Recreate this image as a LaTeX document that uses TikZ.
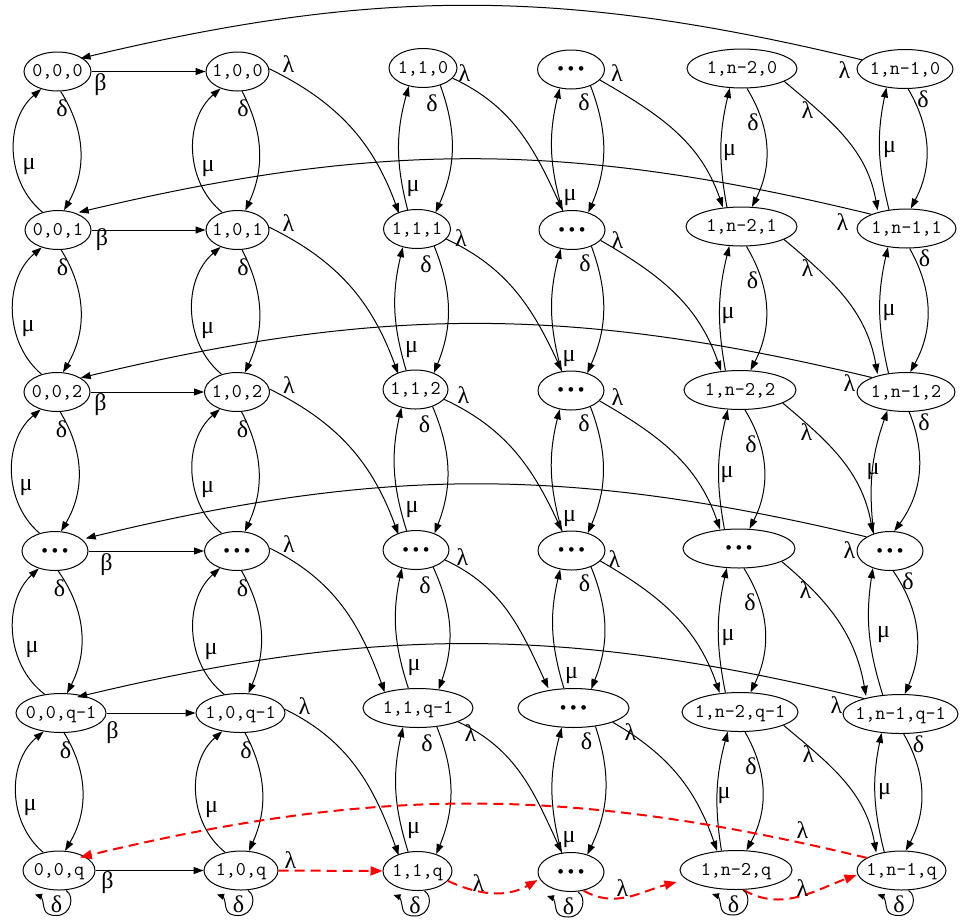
\documentclass[tikz,border=0pt]{standalone}
\usepackage{fontspec}
\setmainfont{Liberation Serif}
\newfontfamily\monof{Liberation Mono}
\usetikzlibrary{arrows.meta,calc,shapes.geometric}
\newcommand\nt[1]{\makebox[0pt]{#1}}
\newcommand\bdots{\makebox[0pt]{\monof\fontsize{17pt}{17pt}\selectfont •••}}
\begin{document}
\begin{tikzpicture}[x=1pt,y=1pt,
  st/.style={draw, ellipse, line width=1pt, inner sep=0pt, minimum width=#1pt, minimum height=39pt, text height=13pt, text depth=3pt, font=\ttfamily\fontsize{19.5pt}{19.5pt}\selectfont},
  ed/.style={line width=1pt, -{Triangle[length=10pt,width=7pt]}},
  rd/.style={draw=red, line width=2pt, dash pattern=on 10pt off 6pt, -{Triangle[length=12pt,width=9pt]}},
  lp/.style={line width=1pt, -{Triangle[length=7pt,width=6pt]}},
  lb/.style={inner sep=0pt, font=\fontsize{24pt}{24pt}\selectfont},
]
\useasboundingbox (0,0) rectangle (960,-921);
% row 0
\node[st=67]  (A0) at (57.5,-71.5) {\nt{0,0,0}};
\node[st=63]  (B0) at (237.5,-71.5) {\nt{1,0,0}};
\node[st=68]  (C0) at (423,-68) {\nt{1,1,0}};
\node[st=67]  (D0) at (571,-69.5) {\bdots};
\node[st=110] (E0) at (742,-68.5) {\nt{1,n-2,0}};
\node[st=96]  (F0) at (905,-69) {\nt{1,n-1,0}};
% row 1
\node[st=66]  (A1) at (58,-230) {\nt{0,0,1}};
\node[st=63]  (B1) at (237.5,-230) {\nt{1,0,1}};
\node[st=67]  (C1) at (417,-229) {\nt{1,1,1}};
\node[st=66]  (D1) at (572,-230) {\bdots};
\node[st=111] (E1) at (741.5,-226.5) {\nt{1,n-2,1}};
\node[st=99]  (F1) at (906.5,-228.5) {\nt{1,n-1,1}};
% row 2
\node[st=66]  (A2) at (57,-392) {\nt{0,0,2}};
\node[st=65]  (B2) at (237,-392) {\nt{1,0,2}};
\node[st=65]  (C2) at (415.5,-389.5) {\nt{1,1,2}};
\node[st=66]  (D2) at (571,-390.5) {\bdots};
\node[st=112] (E2) at (740,-390) {\nt{1,n-2,2}};
\node[st=98]  (F2) at (906,-392) {\nt{1,n-1,2}};
% row 3
\node[st=66]  (A3) at (55,-551) {\bdots};
\node[st=65]  (B3) at (237,-551) {\bdots};
\node[st=66]  (C3) at (416,-550) {\bdots};
\node[st=67]  (D3) at (571.5,-550.5) {\bdots};
\node[st=112] (E3) at (739,-548.5) {\bdots};
\node[st=66]  (F3) at (890,-551) {\bdots};
% row 4
\node[st=90]  (A4) at (61,-713) {\nt{0,0,q-1}};
\node[st=89]  (B4) at (240.5,-713) {\nt{1,0,q-1}};
\node[st=110] (C4) at (418,-708) {\nt{1,1,q-1}};
\node[st=111] (D4) at (573.5,-708) {\bdots};
\node[st=116] (E4) at (740,-712) {\nt{1,n-2,q-1}};
\node[st=115] (F4) at (900.5,-714) {\nt{1,n-1,q-1}};
% row 5
\node[st=72]  (A5) at (59,-870.5) {\nt{0,0,q}};
\node[st=74]  (B5) at (241,-870.5) {\nt{1,0,q}};
\node[st=69]  (C5) at (417.5,-871) {\nt{1,1,q}};
\node[st=66]  (D5) at (571,-872) {\bdots};
\node[st=112] (E5) at (736,-870) {\nt{1,n-2,q}};
\node[st=89]  (F5) at (901.5,-870.5) {\nt{1,n-1,q}};

% vertical delta / mu pairs
\foreach \c/\da/\db/\dbend/\ma/\mb/\mbend/\dlx/\dly/\mlx/\mly in {
 A/-81/73/31/131/-133/50/4.5/-17/-29/43,
 B/-77/68/26/131/-135/50/5.5/-17/-29.5/41,
 C/-45/42/22/116/-128/15/9/-15/-4/20,
 D/-40/47/22/116/-121/15/13/-13/-2/12,
 E/-76/62/29/127/-122/12/11/-34/-12/54,
 F/-81/78/29/133/-135/13/18/-10/-17/59}
{
 \foreach \i/\j in {0/1,1/2,2/3,3/4,4/5}{
  \draw[ed] (\c\i.\da) to[bend left=\dbend] (\c\j.\db);
  \draw[ed] (\c\j.\ma) to[bend left=\mbend] (\c\i.\mb);
  \node[lb] at ([shift={(\dlx,\dly)}]\c\i.south) {δ};
  \node[lb] at ([shift={(\mlx,\mly)}]\c\j.north) {μ};
 }
}

% beta edges
\foreach \i/\bx/\by in {0/9/-13.5,1/10.5/-10,2/10/-13,3/18/-14,4/6/-20,5/12/-12.5}{
  \draw[ed] (A\i) -- (B\i);
  \node[lb] at ([shift={(\bx,\by)}]A\i.east) {β};
}

% lambda edges between columns
\foreach \i/\j/\cx/\cy/\dx/\dy in {0/1/7/-5/12/-3.5, 1/2/10/-9/12/-10, 2/3/15/-5.5/13/-6.5, 3/4/13/-7/9/-8.5, 4/5/-3/-25/1/-24}{
  \draw[ed] (B\i.5) to[out=-26,in=110] ([shift={(6,1.5)}]C\j.north west);
  \node[lb] at ([shift={(19,7)}]B\i.east) {λ};
  \draw[ed] (C\i.-19) to[out=-25,in=115] ([shift={(14.5,5.5)}]D\j.north west);
  \node[lb] at ([shift={(\cx,\cy)}]C\i.east) {λ};
  \draw[ed] (D\i.-20) to[out=-30,in=109] ([shift={(21,5)}]E\j.north west);
  \node[lb] at ([shift={(\dx,\dy)}]D\i.east) {λ};
  \draw[ed] (E\i.-17) to[out=-40,in=100] ([shift={(6.5,4)}]F\j.north west);
  \node[lb] at ([shift={(10,-42)}]E\i.east) {λ};
}

% long lambda arcs back to first column
\foreach \i/\sa/\ex/\ey/\lx/\ly in {0/168/-1/-1/-12/-1, 1/158/-3/3.5/-14/6.5, 2/157/0/0/-7/9, 3/149/7/-1.5/-7/1, 4/157/-16/1.8/-6/9}{
  \draw[ed] (F\i.\sa) to[bend right=13.5] ([shift={(\ex,\ey)}]A\i.north east);
  \node[lb] at ([shift={(\lx,\ly)}]F\i.west) {λ};
}

% last row (red dashed)
\draw[rd] (B5) -- (C5);
\node[lb] at ([shift={(12,10.5)}]B5.east) {λ};
\draw[rd] (C5.-18) to[out=-25,in=-150] ([yshift=-8]D5.west);
\node[lb] at ([shift={(26,-12)}]C5.east) {λ};
\draw[rd] (D5.-56) to[out=-30,in=-165] ([shift={(-3,-12)}]E5.west);
\node[lb] at ([shift={(18,-16)}]D5.east) {λ};
\draw[rd] (E5.-70) to[out=-30,in=-160] ([yshift=-4.5]F5.west);
\node[lb] at ([shift={(10,-18)}]E5.east) {λ};
\draw[rd] (F5.160) to[bend right=13.5] ([shift={(-5,-1)}]A5.north east);
\node[lb] at ([shift={(-54,40.5)}]F5.west) {λ};

% self loops
\foreach \c in {A,B,C,D,E,F}{
  \draw[lp] ([xshift=7]\c5.south) .. controls +(9,-5) and +(15,0) .. ([shift={(-2.5,-25)}]\c5.south)
     .. controls +(-15,0) and +(3,-8) .. ([shift={(-17,-8)}]\c5.south)
     .. controls +(-1,3) and +(3,-1) .. ([shift={(-24,-4)}]\c5.south);
  \node[lb] at ([shift={(-2.5,-14)}]\c5.south) {δ};
}
\end{tikzpicture}
\end{document}
